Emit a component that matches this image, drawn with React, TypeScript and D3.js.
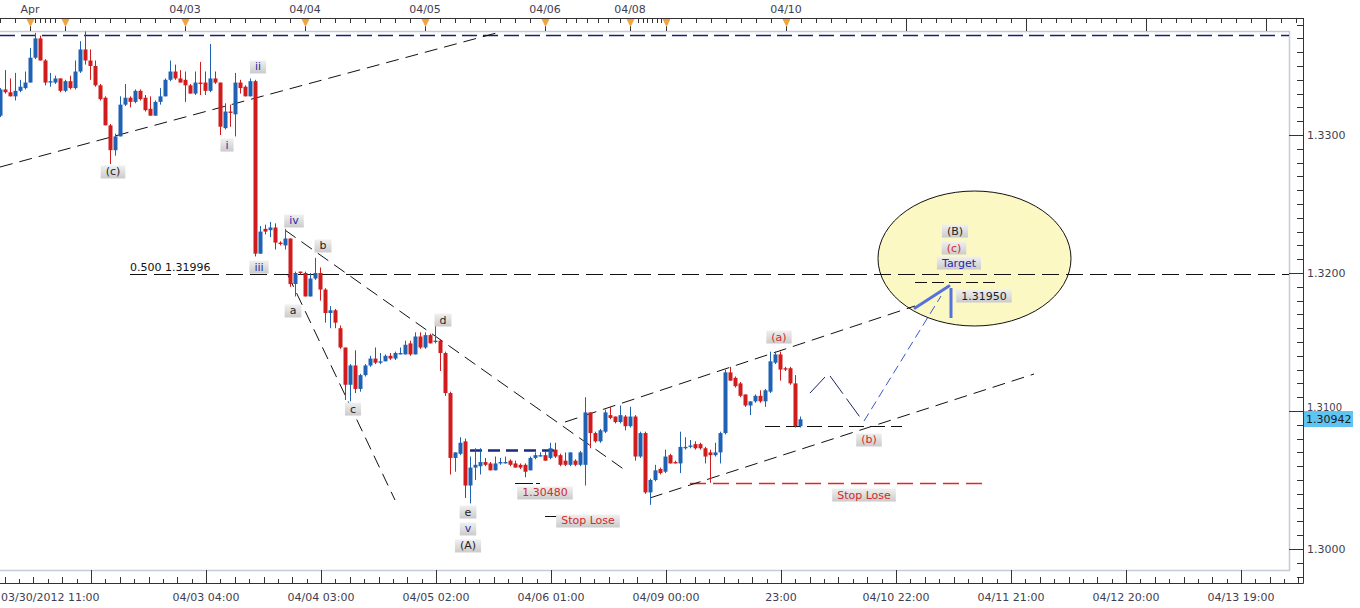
import React, { useEffect, useRef } from "react";
import * as d3 from "d3";

// ---- hourly EUR/USD candles ----
const opens = [
  1.3314,1.3333,1.3331,1.3328,1.3332,1.3334,1.3338,1.3356,1.3370,1.3354,
  1.3338,1.3338,1.3341,1.3332,1.3339,1.3334,1.3346,1.3362,1.3354,1.3350,
  1.3336,1.3327,1.3307,1.3289,1.3299,1.3322,1.3327,1.3324,1.3332,1.3327,
  1.3319,1.3314,1.3324,1.3328,1.3340,1.3346,1.3341,1.3340,1.3336,1.3330,
  1.3338,1.3338,1.3332,1.3341,1.3338,1.3305,1.3317,1.3315,1.3338,1.3335,
  1.3328,1.3339,1.3214,1.3232,1.3231,1.3233,1.3222,1.3220,1.3225,1.3192,
  1.3201,1.3200,1.3183,1.3196,1.3200,1.3188,1.3171,1.3173,1.3160,1.3146,
  1.3119,1.3133,1.3116,1.3126,1.3133,1.3138,1.3135,1.3136,1.3140,1.3138,
  1.3141,1.3141,1.3149,1.3141,1.3154,1.3146,1.3155,1.3150,1.3151,1.3142,
  1.3113,1.3066,1.3069,1.3078,1.3046,1.3059,1.3060,1.3063,1.3062,1.3057,
  1.3062,1.3062,1.3064,1.3062,1.3061,1.3061,1.3057,1.3066,1.3067,1.3068,
  1.3066,1.3072,1.3068,1.3064,1.3061,1.3064,1.3061,1.3061,1.3099,1.3084,
  1.3078,1.3085,1.3097,1.3096,1.3092,1.3096,1.3089,1.3096,1.3067,1.3084,
  1.3041,1.3050,1.3058,1.3056,1.3068,1.3063,1.3062,1.3073,1.3074,1.3076,
  1.3076,1.3073,1.3070,1.3068,1.3070,1.3084,1.3128,1.3124,1.3120,1.3112,
  1.3104,1.3107,1.3111,1.3107,1.3114,1.3135,1.3141,1.3131,1.3131,1.3120,
  1.3089,
];
const highs = [
  1.3334,1.3347,1.3341,1.3345,1.3340,1.3346,1.3363,1.3374,1.3372,1.3355,
  1.3345,1.3343,1.3341,1.3340,1.3343,1.3354,1.3368,1.3375,1.3362,1.3354,
  1.3337,1.3328,1.3308,1.3301,1.3328,1.3337,1.3328,1.3333,1.3333,1.3329,
  1.3328,1.3325,1.3334,1.3341,1.3354,1.3351,1.3347,1.3346,1.3337,1.3346,
  1.3353,1.3346,1.3366,1.3346,1.3338,1.3323,1.3322,1.3345,1.3340,1.3336,
  1.3341,1.3340,1.3234,1.3235,1.3237,1.3236,1.3223,1.3232,1.3225,1.3201,
  1.3201,1.3201,1.3200,1.3211,1.3204,1.3189,1.3176,1.3174,1.3162,1.3146,
  1.3134,1.3144,1.3127,1.3134,1.3140,1.3146,1.3142,1.3141,1.3142,1.3143,
  1.3146,1.3151,1.3151,1.3157,1.3157,1.3157,1.3156,1.3162,1.3152,1.3143,
  1.3114,1.3070,1.3081,1.3080,1.3067,1.3073,1.3073,1.3066,1.3063,1.3067,
  1.3066,1.3067,1.3065,1.3064,1.3062,1.3062,1.3067,1.3070,1.3070,1.3071,
  1.3077,1.3077,1.3069,1.3070,1.3070,1.3065,1.3071,1.3110,1.3099,1.3085,
  1.3087,1.3101,1.3103,1.3096,1.3104,1.3097,1.3103,1.3097,1.3085,1.3085,
  1.3051,1.3061,1.3059,1.3072,1.3069,1.3064,1.3085,1.3081,1.3079,1.3078,
  1.3077,1.3074,1.3072,1.3077,1.3085,1.3130,1.3132,1.3125,1.3121,1.3112,
  1.3107,1.3112,1.3115,1.3116,1.3143,1.3143,1.3143,1.3132,1.3132,1.3126,
  1.3096,
];
const lows = [
  1.3313,1.3330,1.3328,1.3325,1.3331,1.3333,1.3338,1.3355,1.3354,1.3336,
  1.3335,1.3337,1.3331,1.3331,1.3333,1.3333,1.3345,1.3351,1.3340,1.3335,
  1.3325,1.3307,1.3279,1.3285,1.3299,1.3321,1.3320,1.3323,1.3325,1.3317,
  1.3314,1.3314,1.3322,1.3328,1.3339,1.3340,1.3338,1.3324,1.3330,1.3329,
  1.3329,1.3329,1.3331,1.3337,1.3300,1.3304,1.3306,1.3299,1.3330,1.3328,
  1.3328,1.3212,1.3214,1.3228,1.3226,1.3217,1.3220,1.3217,1.3190,1.3183,
  1.3199,1.3183,1.3183,1.3195,1.3180,1.3164,1.3160,1.3160,1.3145,1.3108,
  1.3107,1.3113,1.3114,1.3125,1.3132,1.3134,1.3134,1.3136,1.3137,1.3137,
  1.3141,1.3141,1.3140,1.3141,1.3145,1.3145,1.3149,1.3149,1.3129,1.3111,
  1.3054,1.3056,1.3068,1.3037,1.3033,1.3050,1.3054,1.3060,1.3057,1.3057,
  1.3061,1.3062,1.3060,1.3059,1.3058,1.3052,1.3057,1.3065,1.3067,1.3064,
  1.3065,1.3066,1.3060,1.3060,1.3060,1.3060,1.3060,1.3046,1.3073,1.3077,
  1.3077,1.3084,1.3094,1.3091,1.3091,1.3086,1.3088,1.3064,1.3066,1.3040,
  1.3032,1.3049,1.3054,1.3055,1.3062,1.3062,1.3055,1.3072,1.3073,1.3072,
  1.3072,1.3062,1.3048,1.3067,1.3062,1.3083,1.3122,1.3117,1.3110,1.3103,
  1.3097,1.3106,1.3106,1.3103,1.3113,1.3134,1.3122,1.3129,1.3119,1.3088,
  1.3088,
];
const closes = [
  1.3333,1.3331,1.3328,1.3332,1.3335,1.3338,1.3356,1.3370,1.3354,1.3338,
  1.3339,1.3341,1.3332,1.3339,1.3334,1.3346,1.3362,1.3354,1.3350,1.3336,
  1.3326,1.3307,1.3289,1.3299,1.3322,1.3327,1.3324,1.3332,1.3326,1.3318,
  1.3314,1.3324,1.3328,1.3340,1.3346,1.3341,1.3338,1.3336,1.3330,1.3338,
  1.3337,1.3332,1.3341,1.3338,1.3306,1.3317,1.3316,1.3338,1.3334,1.3328,
  1.3339,1.3214,1.3230,1.3230,1.3233,1.3222,1.3221,1.3225,1.3192,1.3200,
  1.3200,1.3183,1.3196,1.3200,1.3188,1.3171,1.3173,1.3164,1.3146,1.3119,
  1.3133,1.3116,1.3126,1.3133,1.3138,1.3135,1.3136,1.3140,1.3138,1.3142,
  1.3142,1.3148,1.3141,1.3154,1.3146,1.3155,1.3149,1.3151,1.3142,1.3113,
  1.3066,1.3070,1.3077,1.3046,1.3059,1.3061,1.3063,1.3061,1.3057,1.3062,
  1.3063,1.3063,1.3061,1.3059,1.3059,1.3056,1.3066,1.3068,1.3068,1.3064,
  1.3073,1.3067,1.3061,1.3061,1.3070,1.3061,1.3070,1.3099,1.3084,1.3078,
  1.3086,1.3099,1.3095,1.3092,1.3097,1.3089,1.3096,1.3067,1.3084,1.3041,
  1.3050,1.3057,1.3055,1.3067,1.3062,1.3062,1.3074,1.3074,1.3075,1.3073,
  1.3073,1.3067,1.3068,1.3070,1.3084,1.3128,1.3122,1.3118,1.3111,1.3104,
  1.3107,1.3111,1.3107,1.3115,1.3136,1.3141,1.3130,1.3130,1.3120,1.3089,
  1.3094,
];
const lastPrice = "1.30942";

// ---- axes (positions in candle-index units) ----
const topLabels = ["Apr", "04/03", "04/04", "04/05", "04/06", "04/08", "04/10"];
const topLabelIdx = [6, 37, 61, 85, 109, 126, 157.2];
const topMarkerIdx = [6, 13, 37, 61, 85, 109, 126, 133.2, 157.2];
const topDayIdx = [6, 13, 37, 61, 85, 109, 126, 133.2, 157.2, 181.2, 205.2, 229.2, 253.2];
const topIrregularIdx = [0, 3, 7, 8, 9, 10, 11, 113.2, 115.2, 117.4, 119.6, 121.6, 124, 127.6, 128.6, 129.4, 130.4, 131.4, 132.2];
const bottomLabels = ["03/30/2012 11:00", "04/03 04:00", "04/04 03:00", "04/05 02:00", "04/06 01:00", "04/09 00:00", "23:00", "04/10 22:00", "04/11 21:00", "04/12 20:00", "04/13 19:00"];
const bottomFirstIdx = 18.2;
const bottomStep = 23;
const priceTicks = [1.3, 1.31, 1.32, 1.33];

// ---- drawing objects (index, price) ----
const blackDashLines = [
  [0, 1.32768, 100, 1.33746],
  [57, 1.32311, 125, 1.30572],
  [57.6, 1.31985, 79, 1.30355],
  [113, 1.3092, 183, 1.31761],
  [130, 1.3037, 206.8, 1.31268],
];
const fibLevel = { i1: 26, i2: 257.8, p: 1.31996, text: "0.500 1.31996" };
const bLevel = { i1: 153, i2: 180.4, p: 1.30891 };
const targetLevel = { i1: 183, i2: 199, p: 1.31935 };
const stopLevel = { i1: 138, i2: 197.4, p: 1.3048 };
const topLevel = { i1: 0, i2: 257.8, p: 1.33728 };
const rangeLevel = { i1: 94, i2: 111, p: 1.30717 };
const shortLevelA = { i1: 103, i2: 108, p: 1.30478 };
const shortLevelB = { i1: 109, i2: 117, p: 1.30239 };
const zigzag = [
  [162, 1.3113, 165.2, 1.31254],
  [166, 1.31254, 172.4, 1.30935],
];
const projection = [172.8, 1.30927, 188.2, 1.31833];
const arrowPath = [[183, 1.31746], [189.8, 1.31906]];
const arrowStem = [190.2, 1.31891, 1.31674];
const targetZone = { i1: 175.6, i2: 214.2, p1: 1.32594, p2: 1.31616 };

const blackLabels = [
  { t: "(c)", i: 22.6, p: 1.32732 },
  { t: "b", i: 64.6, p: 1.32196 },
  { t: "a", i: 58.6, p: 1.31725 },
  { t: "c", i: 70.6, p: 1.31014 },
  { t: "d", i: 88.6, p: 1.31659 },
  { t: "e", i: 93.6, p: 1.30268 },
  { t: "(A)", i: 93.6, p: 1.30022 },
  { t: "(B)", i: 191, p: 1.32304 },
  { t: "1.31950", i: 196.8, p: 1.31833 },
];
const blueLabels = [
  { t: "i", i: 45.4, p: 1.32927 },
  { t: "ii", i: 51.6, p: 1.33493 },
  { t: "iv", i: 58.8, p: 1.32377 },
  { t: "iii", i: 51.8, p: 1.32043 },
  { t: "v", i: 93.6, p: 1.30145 },
  { t: "Target", i: 191.8, p: 1.32072 },
];
const redLabels = [
  { t: "1.30480", i: 109, p: 1.30406 },
  { t: "Stop Lose", i: 117.6, p: 1.30203 },
  { t: "(a)", i: 155.8, p: 1.31536 },
  { t: "(b)", i: 173.8, p: 1.3079 },
  { t: "Stop Lose", i: 172.8, p: 1.30391 },
  { t: "(c)", i: 190.8, p: 1.32181 },
];

export default function App() {
  const ref = useRef<SVGSVGElement | null>(null);

  useEffect(() => {
    const root = d3.select(ref.current);
    root.selectAll("*").remove();
    const FONT = "'DejaVu Sans', Verdana, sans-serif";
    const plot = { l: 0, r: 1289, t: 31, b: 570 };
    const axisTop = 18, axisBottom = 583, axisRight = 1303;
    const x = d3.scaleLinear().domain([0, 258]).range([0, 1290]);
    const y = d3.scaleLinear().domain([1.3, 1.33]).range([549, 135]);

    const defs = root.append("defs");
    const grad = defs.append("linearGradient").attr("id", "lblbg").attr("x1", 0).attr("y1", 0).attr("x2", 0).attr("y2", 1);
    grad.append("stop").attr("offset", "0%").attr("stop-color", "#f0f0f0");
    grad.append("stop").attr("offset", "100%").attr("stop-color", "#cbcbcb");
    defs.append("clipPath").attr("id", "plotclip").append("rect")
      .attr("x", plot.l).attr("y", plot.t).attr("width", plot.r - plot.l).attr("height", plot.b - plot.t);

    root.append("rect").attr("width", 1360).attr("height", 608).attr("fill", "#ffffff");

    // light plot frame
    root.append("path")
      .attr("d", `M${plot.l},${plot.t + 0.5}H${plot.r + 0.5}V${plot.b + 0.5}H${plot.l}`)
      .attr("fill", "none").attr("stroke", "#c5cbd9").attr("stroke-width", 1.5);

    const g = root.append("g").attr("clip-path", "url(#plotclip)");

    // target ellipse
    const ex1 = x(targetZone.i1), ex2 = x(targetZone.i2), ey1 = y(targetZone.p1), ey2 = y(targetZone.p2);
    g.append("ellipse").attr("cx", (ex1 + ex2) / 2).attr("cy", (ey1 + ey2) / 2)
      .attr("rx", (ex2 - ex1) / 2).attr("ry", (ey2 - ey1) / 2)
      .attr("fill", "#fcf8c3").attr("stroke", "#111").attr("stroke-width", 1);

    const hline = (lv: { i1: number; i2: number; p: number }, color: string, dash: string, w = 1) =>
      g.append("line").attr("x1", x(lv.i1)).attr("x2", x(lv.i2))
        .attr("y1", Math.round(y(lv.p)) + 0.5).attr("y2", Math.round(y(lv.p)) + 0.5)
        .attr("stroke", color).attr("stroke-width", w).attr("stroke-dasharray", dash);

    hline(topLevel, "#1e1e6e", "15,6", 1.6);
    hline(fibLevel, "#111", "17,7");
    hline(bLevel, "#111", "15,6");
    hline(targetLevel, "#111", "12,5");
    hline(stopLevel, "#e02828", "16,7", 1.3);
    hline(rangeLevel, "#1c2a80", "12,6", 2.5);
    hline(shortLevelA, "#111", "18,3");
    hline(shortLevelB, "#111", "");

    blackDashLines.forEach(([i1, p1, i2, p2]) => {
      g.append("line").attr("x1", x(i1)).attr("y1", y(p1)).attr("x2", x(i2)).attr("y2", y(p2))
        .attr("stroke", "#111").attr("stroke-width", 1).attr("stroke-dasharray", "13,7");
    });

    zigzag.forEach(([i1, p1, i2, p2]) => {
      g.append("line").attr("x1", x(i1)).attr("y1", y(p1)).attr("x2", x(i2)).attr("y2", y(p2))
        .attr("stroke", "#1b2660").attr("stroke-width", 1).attr("stroke-dasharray", "22,6");
    });
    g.append("line").attr("x1", x(projection[0])).attr("y1", y(projection[1]))
      .attr("x2", x(projection[2])).attr("y2", y(projection[3]))
      .attr("stroke", "#3556d0").attr("stroke-width", 1).attr("stroke-dasharray", "9,5");
    g.append("line").attr("x1", x(arrowPath[0][0])).attr("y1", y(arrowPath[0][1]))
      .attr("x2", x(arrowPath[1][0])).attr("y2", y(arrowPath[1][1]))
      .attr("stroke", "#5573dc").attr("stroke-width", 3).attr("stroke-linecap", "round");
    g.append("line").attr("x1", x(arrowStem[0])).attr("x2", x(arrowStem[0]))
      .attr("y1", y(arrowStem[1])).attr("y2", y(arrowStem[2]))
      .attr("stroke", "#5573dc").attr("stroke-width", 3);

    // candles
    const data = opens.map((o, i) => ({ i, o, h: highs[i], l: lows[i], c: closes[i] }));
    const cg = g.append("g");
    data.forEach((d) => {
      const col = d.c >= d.o ? "#1f62b4" : "#d01c1c";
      const cx = Math.round(x(d.i));
      cg.append("line").attr("x1", cx + 0.5).attr("x2", cx + 0.5)
        .attr("y1", y(d.h)).attr("y2", y(d.l)).attr("stroke", col).attr("stroke-width", 1);
      const top = Math.min(y(d.o), y(d.c));
      const hgt = Math.max(1.2, Math.abs(y(d.o) - y(d.c)));
      cg.append("rect").attr("x", cx - 1.5).attr("width", 4).attr("y", top).attr("height", hgt).attr("fill", col);
    });

    // fib text
    g.append("text").attr("x", x(fibLevel.i1)).attr("y", y(fibLevel.p) - 3)
      .attr("font-family", FONT).attr("font-size", 11).attr("fill", "#111").text(fibLevel.text);

    // labels
    const label = (t: string, i: number, p: number, color: string) => {
      const lg = g.append("g");
      const txt = lg.append("text").attr("x", x(i)).attr("y", y(p)).attr("text-anchor", "middle")
        .attr("dominant-baseline", "central").attr("font-family", FONT).attr("font-size", 11)
        .attr("fill", color).text(t);
      const w = (txt.node() as SVGTextElement).getComputedTextLength();
      lg.insert("rect", "text").attr("x", x(i) - w / 2 - 5).attr("y", y(p) - 6.5)
        .attr("width", w + 10).attr("height", 13).attr("fill", "url(#lblbg)");
    };
    blackLabels.forEach((l) => label(l.t, l.i, l.p, "#1e1e1e"));
    blueLabels.forEach((l) => label(l.t, l.i, l.p, "#2a2aa6"));
    redLabels.forEach((l) => label(l.t, l.i, l.p, "#d42a2a"));

    // ---- top axis ----
    const ax = root.append("g").attr("font-family", FONT).attr("font-size", 11);
    ax.append("line").attr("x1", 0).attr("x2", axisRight + 0.5).attr("y1", axisTop + 0.5).attr("y2", axisTop + 0.5).attr("stroke", "#333");
    const regular = [...d3.range(13, 109.01, 3), ...d3.range(133.2, 259.5, 3)];
    [...regular, ...topIrregularIdx].forEach((i) => {
      const xx = Math.round(x(i)) + 0.5;
      ax.append("line").attr("x1", xx).attr("x2", xx).attr("y1", axisTop).attr("y2", axisTop + 5).attr("stroke", "#333");
    });
    topDayIdx.forEach((i) => {
      const xx = Math.round(x(i)) + 0.5;
      ax.append("line").attr("x1", xx).attr("x2", xx).attr("y1", axisTop).attr("y2", plot.t).attr("stroke", "#333");
    });
    topMarkerIdx.forEach((i) => {
      const xx = Math.round(x(i)) + 0.5;
      ax.append("path").attr("d", `M${xx - 4},${axisTop + 1}L${xx + 4},${axisTop + 1}L${xx},${axisTop + 9}Z`).attr("fill", "#f2a43a");
    });
    topLabels.forEach((t, k) => {
      ax.append("text").attr("x", x(topLabelIdx[k])).attr("y", 9).attr("text-anchor", "middle")
        .attr("dominant-baseline", "central").attr("fill", "#3e3e52").text(t);
    });

    // ---- right axis ----
    ax.append("line").attr("x1", axisRight + 0.5).attr("x2", axisRight + 0.5).attr("y1", axisTop).attr("y2", axisBottom + 0.5).attr("stroke", "#333");
    d3.range(1298, 1339).forEach((k) => {
      const yy = Math.round(y(k / 1000)) + 0.5;
      if (yy < axisTop || yy > axisBottom) return;
      const major = k % 10 === 0;
      ax.append("line").attr("x1", major ? plot.r : axisRight - 6).attr("x2", axisRight)
        .attr("y1", yy).attr("y2", yy).attr("stroke", "#333");
    });
    const tagY = y(+lastPrice);
    priceTicks.forEach((p) => {
      const yy = y(p);
      // the label hidden under the last-price tag shows only its upper part
      const hidden = Math.abs(yy - tagY) < 14;
      ax.append("text").attr("x", axisRight + 4).attr("y", hidden ? tagY - 12 : yy).attr("dominant-baseline", "central")
        .attr("font-size", hidden ? 10 : 11)
        .attr("fill", "#3e3e52").text(p.toFixed(4))
        .attr("clip-path", hidden ? "url(#tagclip)" : null);
    });
    defs.append("clipPath").attr("id", "tagclip").append("rect")
      .attr("x", axisRight).attr("y", tagY - 20).attr("width", 60).attr("height", 12);
    ax.append("rect").attr("x", axisRight + 1).attr("y", tagY - 8).attr("width", 49).attr("height", 16).attr("fill", "#5fc4f0");
    ax.append("text").attr("x", axisRight + 3).attr("y", tagY).attr("dominant-baseline", "central")
      .attr("fill", "#1a1a1a").text(lastPrice);

    // ---- bottom axis ----
    ax.append("line").attr("x1", 0).attr("x2", axisRight + 0.5).attr("y1", axisBottom + 0.5).attr("y2", axisBottom + 0.5).attr("stroke", "#333");
    d3.range(bottomFirstIdx - bottomStep, 261, bottomStep / 8).forEach((i, k) => {
      const xx = Math.round(x(i)) + 0.5;
      if (xx < 0 || xx > axisRight) return;
      if (k % 8 === 0) {
        ax.append("line").attr("x1", xx).attr("x2", xx).attr("y1", plot.b).attr("y2", axisBottom).attr("stroke", "#333");
      } else {
        ax.append("line").attr("x1", xx).attr("x2", xx).attr("y1", axisBottom - (k % 2 === 0 ? 6 : 4)).attr("y2", axisBottom).attr("stroke", "#333");
      }
    });
    bottomLabels.forEach((t, k) => {
      const xx = x(bottomFirstIdx + k * bottomStep);
      ax.append("text").attr("x", k === 0 ? 1 : xx).attr("y", 597)
        .attr("text-anchor", k === 0 ? "start" : "middle").attr("dominant-baseline", "central")
        .attr("fill", "#3e3e52").text(t);
    });
  }, []);

  return (
    <svg ref={ref} width={1360} height={608}
      style={{ position: "absolute", left: 0, top: 0, display: "block" }} />
  );
}
